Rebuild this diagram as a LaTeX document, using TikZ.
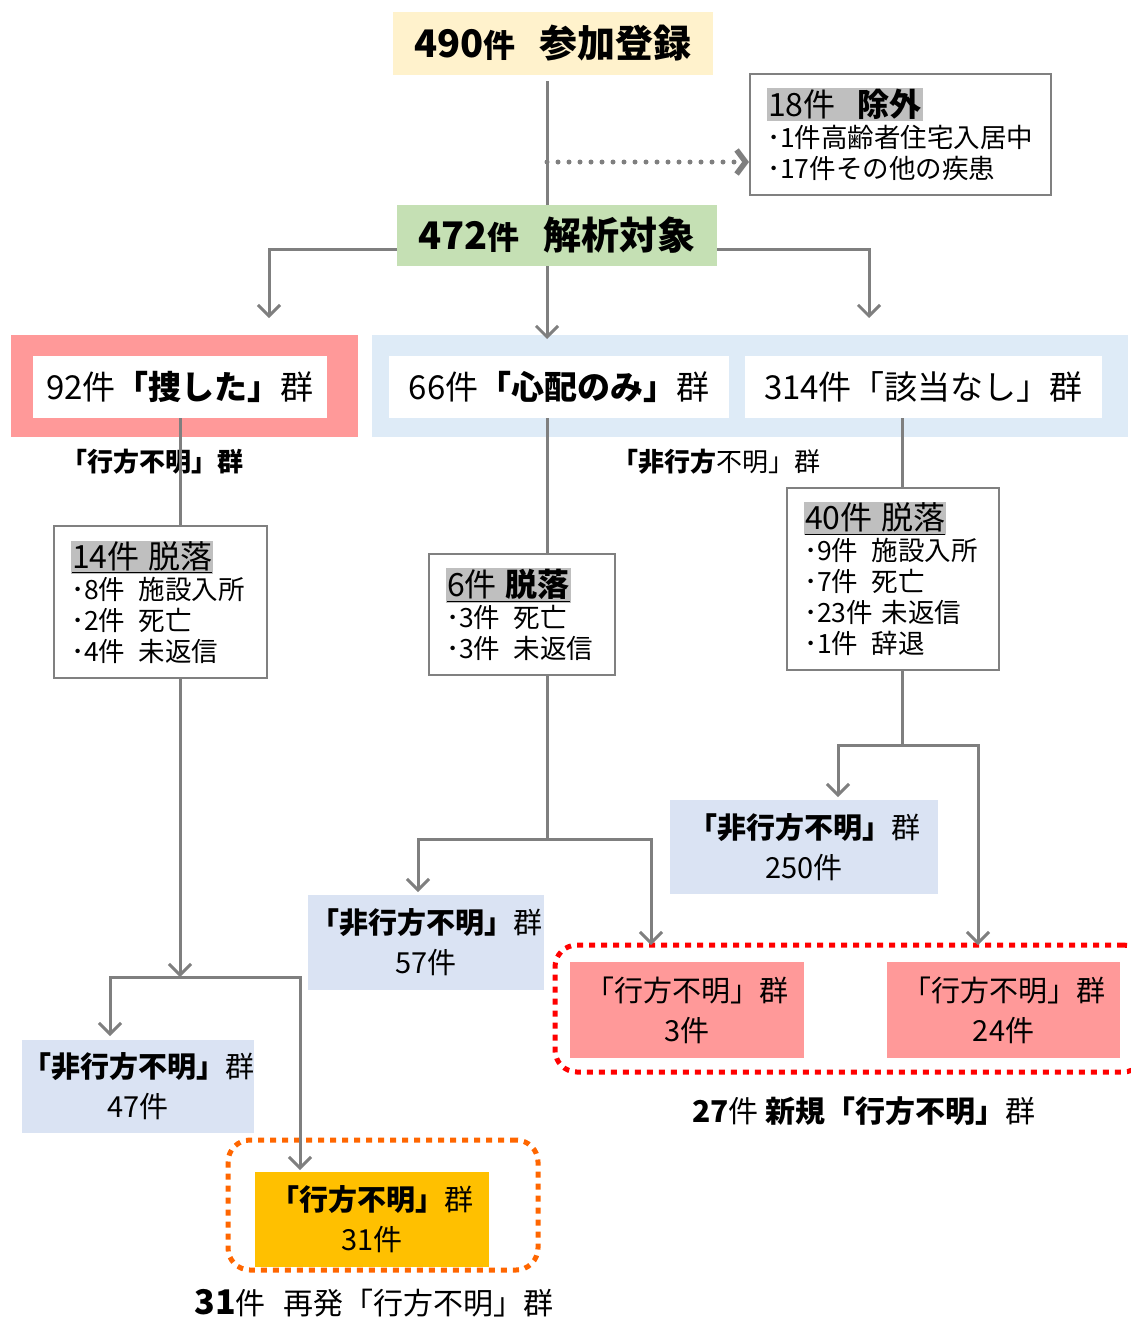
\documentclass[tikz,border=0pt]{standalone}
\usepackage{fontspec}
\setmainfont{Noto Sans CJK JP}
\usetikzlibrary{arrows.meta}

\definecolor{regyellow}{HTML}{FFF2CC}
\definecolor{anagreen}{HTML}{C5E0B4}
\definecolor{lostpink}{HTML}{FF9999}
\definecolor{grpblue}{HTML}{DEEBF7}
\definecolor{resblue}{HTML}{DAE3F3}
\definecolor{relapseorange}{HTML}{FFC000}
\definecolor{dotorange}{HTML}{FF6600}
\definecolor{dotred}{HTML}{FF0000}
\definecolor{linegray}{HTML}{7F7F7F}
\definecolor{boxgray}{HTML}{808080}
\definecolor{hlgray}{HTML}{BFBFBF}

\newcommand{\droph}[1]{{\fontsize{32}{36}\selectfont\setlength{\fboxsep}{1pt}\colorbox{hlgray}{\underline{#1}}}}
\newcommand{\exclh}[1]{{\fontsize{32}{36}\selectfont\setlength{\fboxsep}{1pt}\colorbox{hlgray}{#1}}}
\newcommand{\ken}{{\fontsize{32}{32}\selectfont 件}}

\tikzset{
  link/.style={draw=linegray, line width=3pt},
  arr/.style={link, -{Straight Barb[length=11pt,width=22pt]}},
  dotarr/.style={draw=linegray, line width=5pt, line cap=round, dash pattern=on 0pt off 11pt,
    -{Straight Barb[length=9pt,width=24pt,line width=5.5pt]}},
  headbox/.style={inner sep=0pt, minimum width=320pt, font=\fontsize{38}{40}\selectfont\bfseries},
  grpbg/.style={inner sep=0pt, minimum height=102pt},
  grpbox/.style={fill=white, inner sep=0pt, minimum height=62pt, font=\fontsize{33}{36}\selectfont},
  dropbox/.style={draw=boxgray, line width=2pt, fill=white, anchor=north west, align=left,
    inner xsep=17pt, inner ysep=0pt, font=\fontsize{26.5}{31}\selectfont},
  resbox/.style={inner sep=0pt, align=center, minimum height=95pt, font=\fontsize{29}{40}\selectfont},
  lbl/.style={inner sep=0pt, font=\fontsize{26}{30}\selectfont},
  sumlbl/.style={inner sep=0pt, font=\fontsize{30}{34}\selectfont},
  dotgrp/.style={line width=5pt, dash pattern=on 6pt off 6pt, rounded corners=22pt, inner sep=0pt},
}

\begin{document}
\begin{tikzpicture}[x=1pt,y=-1pt]
  \useasboundingbox (0,0) rectangle (1130,1320);

  %% Registration and analysis
  \node[headbox, fill=regyellow, minimum height=63pt] (reg) at (553,43.5) {490\ken\hspace{24pt}参加登録};
  \node[headbox, fill=anagreen, minimum height=61pt] (ana) at (557,235.5) {472\ken\hspace{24pt}解析対象};
  \node[dropbox, text width=267pt, minimum height=121pt] (excl) at (749,73)
    {\exclh{18件\hspace{0.7em}\textbf{除外}}\\ ･1件高齢者住宅入居中\\ ･17件その他の疾患};

  %% Groups
  \node[grpbg, fill=lostpink, minimum width=347pt] (searchgrp) at (184.5,386) {};
  \node[grpbg, fill=grpblue, minimum width=756pt] (restgrp) at (750,386) {};
  \node[grpbox, minimum width=294pt] (search) at (180,387) {92件\textbf{「捜した」}群};
  \node[grpbox, minimum width=340pt] (worry) at (559,387) {66件\textbf{「心配のみ」}群};
  \node[grpbox, minimum width=357pt] (none) at (923.5,387) {314件「該当なし」群};
  \node[lbl, font=\fontsize{26}{30}\selectfont\bfseries] (lostlbl) at (152,462) {「行方不明」群};
  \node[lbl] (nonlostlbl) at (716,462) {\textbf{「非行方}不明」群};

  %% Drop-outs
  \node[dropbox, text width=179pt, minimum height=152pt] (drop14) at (53,525)
    {\droph{14件 脱落}\\ ･8件\hspace{0.5em}施設入所\\ ･2件\hspace{0.5em}死亡\\ ･4件\hspace{0.5em}未返信};
  \node[dropbox, text width=152pt, minimum height=121pt] (drop6) at (428,553)
    {\droph{6件 \textbf{脱落}}\\ ･3件\hspace{0.5em}死亡\\ ･3件\hspace{0.5em}未返信};
  \node[dropbox, text width=178pt, minimum height=182pt] (drop40) at (786,487)
    {\droph{40件 脱落}\\ ･9件\hspace{0.5em}施設入所\\ ･7件\hspace{0.5em}死亡\\ ･23件 未返信\\ ･1件\hspace{0.5em}辞退};

  %% Outcomes
  \node[resbox, fill=resblue, minimum width=268pt, minimum height=94pt] (nl250) at (804,847) {\textbf{「非行方不明」}群\\250件};
  \node[resbox, fill=resblue, minimum width=236pt] (nl57) at (426,942.5) {\textbf{「非行方不明」}群\\57件};
  \node[resbox, fill=resblue, minimum width=232pt, minimum height=93pt] (nl47) at (138,1086.5) {\textbf{「非行方不明」}群\\47件};
  \node[resbox, fill=lostpink, minimum width=234pt, minimum height=96pt] (l3) at (687,1010) {「行方不明」群\\3件};
  \node[resbox, fill=lostpink, minimum width=233pt, minimum height=96pt] (l24) at (1003.5,1010) {「行方不明」群\\24件};
  \node[resbox, fill=relapseorange, minimum width=234pt] (l31) at (372,1219.5) {\textbf{「行方不明」}群\\31件};

  %% Dotted frames and their labels
  \node[dotgrp, draw=dotred, minimum width=590pt, minimum height=127pt] (newgrp) at (850,1008.5) {};
  \node[dotgrp, draw=dotorange, minimum width=310pt, minimum height=130pt] (relgrp) at (383,1205) {};
  \node[sumlbl] (newlbl) at (864,1111) {\textbf{27}件 \textbf{新規「行方不明」}群};
  \node[sumlbl] (rellbl) at (374,1303) {{\fontsize{34}{34}\selectfont\bfseries 31}件\hspace{0.6em}再発「行方不明」群};

  %% Branch points and arrow ends
  \coordinate (spine) at (547,249);
  \coordinate (dotstart) at (547,162);
  \coordinate (lefttip) at (269,318);
  \coordinate (righttip) at (869,318);
  \coordinate (midtip) at (547,339);
  \coordinate (lsplit) at (180,977);
  \coordinate (msplit) at (547,839);
  \coordinate (rsplit) at (902,745);
  \coordinate (tip47) at (110,1036);
  \coordinate (tip31) at (300,1170);
  \coordinate (tip57) at (418,892);
  \coordinate (tip3) at (651,945);
  \coordinate (tip250) at (838,797);
  \coordinate (tip24) at (978,945);

  %% Connectors
  \draw[link, shorten <=6pt] (reg.south -| spine) -- (ana.north -| spine);
  \draw[dotarr] (dotstart) -- (dotstart -| excl.west);
  \draw[arr] (ana.west |- spine) -| (lefttip);
  \draw[arr] (ana.east |- spine) -| (righttip);
  \draw[arr] (ana.south -| spine) -- (midtip);

  \draw[link] (search.south) -- (search.south |- drop14.north);
  \draw[arr] (drop14.south -| lsplit) -- (lsplit);
  \draw[arr] (lsplit) -| (tip47);
  \draw[arr] (lsplit) -| (tip31);

  \draw[link] (worry.south -| spine) -- (drop6.north -| spine);
  \draw[link] (drop6.south -| spine) -- (msplit);
  \draw[arr] (msplit) -| (tip57);
  \draw[arr] (msplit) -| (tip3);

  \draw[link] (none.south -| rsplit) -- (drop40.north -| rsplit);
  \draw[link] (drop40.south -| rsplit) -- (rsplit);
  \draw[arr] (rsplit) -| (tip250);
  \draw[arr] (rsplit) -| (tip24);
\end{tikzpicture}
\end{document}
